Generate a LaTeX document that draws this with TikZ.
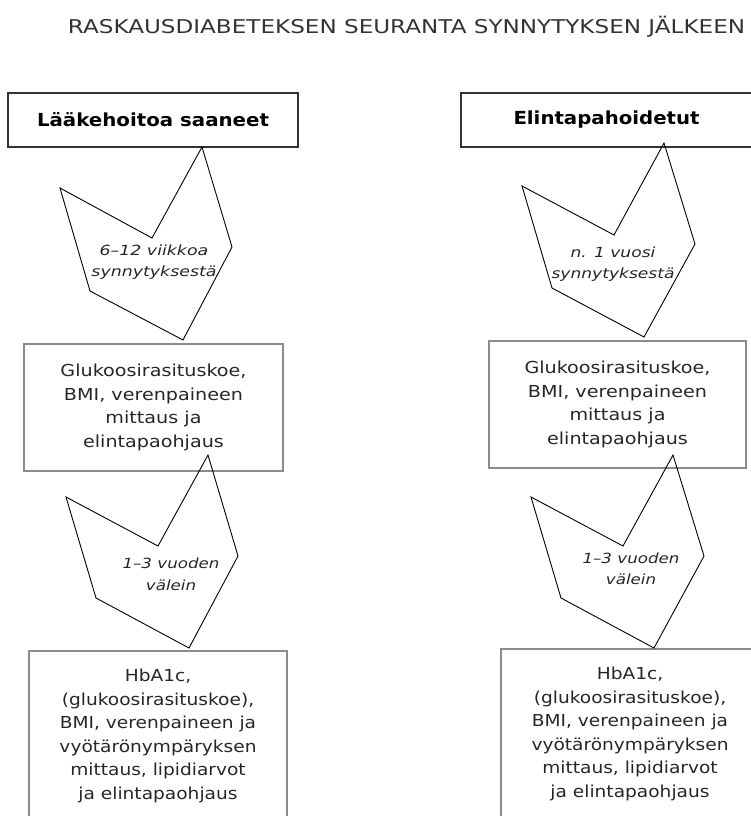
\documentclass[tikz,border=0pt]{standalone}
\usepackage{fontspec}
\setmainfont{DejaVu Sans}
\usepackage{graphicx}
\newcommand{\fitlines}[4]{\resizebox{#1}{\height}{\fontsize{#2}{#3}\selectfont\begin{tabular}{@{}c@{}}#4\end{tabular}}}
\tikzset{
  topbox/.style={draw=black!80, line width=1.5pt, inner sep=0pt, text=black},
  midbox/.style={draw=black!45, line width=1.1pt, inner sep=0pt, text=black!85},
  chev/.style={draw=black, line width=0.9pt, line join=miter},
  lbl/.style={inner sep=0pt, text=black!85},
}
\begin{document}
\begin{tikzpicture}[x=1pt,y=-1pt]
\useasboundingbox (0,0) rectangle (750,816);
% title
\node[lbl, text=black!80] (title) at (406.5,27) {\resizebox{677pt}{\height}{\fontsize{19}{22}\selectfont RASKAUSDIABETEKSEN SEURANTA SYNNYTYKSEN JÄLKEEN}};
% top boxes
\node[topbox, minimum width=290pt, minimum height=54pt] (lt) at (153,120)
  {\resizebox{232pt}{\height}{\fontsize{18}{21}\selectfont\bfseries Lääkehoitoa saaneet}};
\node[topbox, minimum width=291pt, minimum height=54pt] (rt) at (606.5,120)
  {\resizebox{186pt}{\height}{\fontsize{18}{21}\selectfont\bfseries Elintapahoidetut}};
% middle boxes
\node[midbox, minimum width=259pt, minimum height=127pt] (lm) at (153.5,407.5)
  {\fitlines{186pt}{16.5}{23.5}{Glukoosirasituskoe,\\BMI, verenpaineen\\mittaus ja\\elintapaohjaus}};
\node[midbox, minimum width=257pt, minimum height=127pt] (rm) at (617.5,404.5)
  {\fitlines{186pt}{16.5}{23.5}{Glukoosirasituskoe,\\BMI, verenpaineen\\mittaus ja\\elintapaohjaus}};
% bottom boxes
\node[midbox, minimum width=258pt, minimum height=170pt] (lb) at (158,736)
  {\fitlines{197pt}{16.5}{23.5}{HbA1c,\\(glukoosirasituskoe),\\BMI, verenpaineen ja\\vyötärönympäryksen\\mittaus, lipidiarvot\\ja elintapaohjaus}};
\node[midbox, minimum width=258pt, minimum height=170pt] (rb) at (630,734)
  {\fitlines{197pt}{16.5}{23.5}{HbA1c,\\(glukoosirasituskoe),\\BMI, verenpaineen ja\\vyötärönympäryksen\\mittaus, lipidiarvot\\ja elintapaohjaus}};
% chevrons
\draw[chev] (60,188) -- (152,238) -- (202,147) -- (232,247) -- (183,340) -- (90,291) -- cycle;
\draw[chev] (66,497) -- (158,546) -- (208,455) -- (238,556) -- (189,648) -- (96,598) -- cycle;
\draw[chev] (522,186) -- (614,235) -- (664,143) -- (695,244) -- (644,337) -- (552,288) -- cycle;
\draw[chev] (531,497) -- (623,546) -- (673,455) -- (704,556) -- (654,648) -- (561,598) -- cycle;
% chevron labels
\node[lbl] (l1) at (154,261.5) {\fitlines{125pt}{14}{21.5}{\itshape 6–12 viikkoa\\\itshape synnytyksestä}};
\node[lbl] (r1) at (613,263.5) {\fitlines{123pt}{14}{21.5}{\itshape n. 1 vuosi\\\itshape synnytyksestä}};
\node[lbl] (l2) at (171,575) {\fitlines{97pt}{14}{21.5}{\itshape 1–3 vuoden\\\itshape välein}};
\node[lbl] (r2) at (631,569.5) {\fitlines{97pt}{14}{21.5}{\itshape 1–3 vuoden\\\itshape välein}};
\end{tikzpicture}
\end{document}
